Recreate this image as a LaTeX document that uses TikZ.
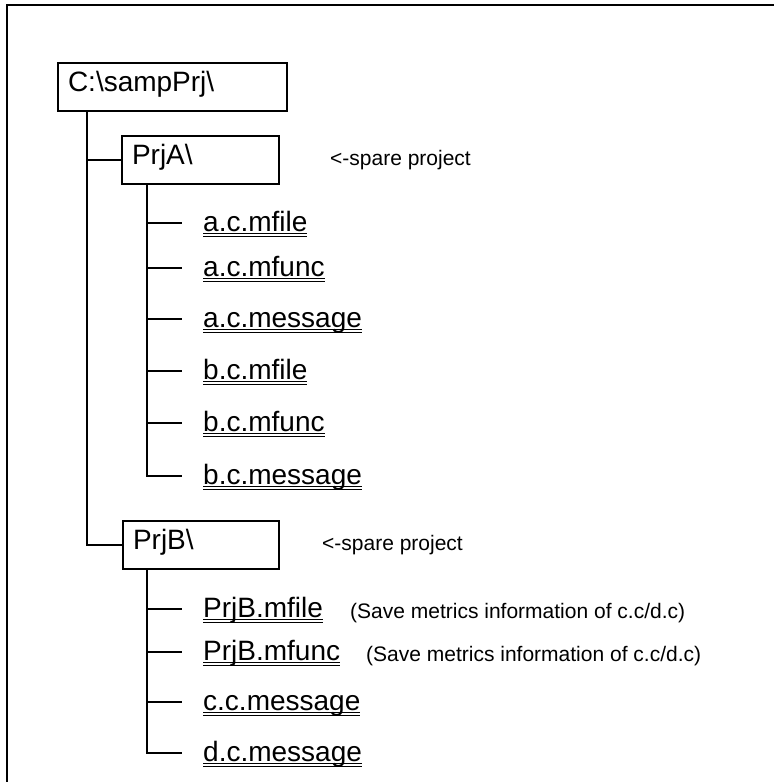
\documentclass[tikz,border=0pt]{standalone}
\usepackage{fontspec}
\setmainfont{Liberation Sans}
\newcommand{\dblul}[1]{\setbox0=\hbox{#1}\rlap{\rule[-3.1pt]{\wd0}{0.9pt}}\rlap{\rule[-5.5pt]{\wd0}{0.9pt}}\box0}
\tikzset{
  dirbox/.style={draw, line width=1.8pt, rectangle, minimum height=48pt, inner xsep=10pt, inner ysep=0pt,
    outer sep=0pt, text height=15pt, text depth=6pt, align=left, font=\fontsize{28}{32}\selectfont, anchor=north west},
  item/.style={inner sep=0pt, anchor=west, text height=20pt, text depth=4pt, font=\fontsize{28}{32}\selectfont},
  note/.style={inner sep=0pt, anchor=base west, font=\fontsize{21}{25}\selectfont},
  tree/.style={line width=1.6pt},
  frame/.style={line width=2pt}
}
\begin{document}
\begin{tikzpicture}[x=1pt,y=-1pt]
\useasboundingbox (0,0) rectangle (774,782);
\draw[frame] (7,782) -- (7,5) -- (774,5);

\node[dirbox, text width=209pt] (C) at (58,63) {C:\textbackslash sampPrj\textbackslash};
\node[dirbox, text width=137pt] (A) at (122,136) {PrjA\textbackslash};
\node[dirbox, text width=136pt] (B) at (123,521) {PrjB\textbackslash};

\node[note] (sa) at (330,165) {<-spare project};
\node[note] (sb) at (322,550) {<-spare project};

\node[item] (a1) at (203,223) {\dblul{a.c.mfile}};
\node[item] (a2) at (203,268) {\dblul{a.c.mfunc}};
\node[item] (a3) at (203,319) {\dblul{a.c.message}};
\node[item] (a4) at (203,371) {\dblul{b.c.mfile}};
\node[item] (a5) at (203,423) {\dblul{b.c.mfunc}};
\node[item] (a6) at (203,476) {\dblul{b.c.message}};

\node[item] (b1) at (203,609) {\dblul{PrjB.mfile}};
\node[item] (b2) at (203,652) {\dblul{PrjB.mfunc}};
\node[item] (b3) at (203,702) {\dblul{c.c.message}};
\node[item] (b4) at (203,753) {\dblul{d.c.message}};

\node[note] (n1) at (350,618) {(Save metrics information of c.c/d.c)};
\node[note] (n2) at (366,661) {(Save metrics information of c.c/d.c)};

\draw[tree] ([xshift=29pt]C.south west) |- (A.west);
\draw[tree] ([xshift=29pt]C.south west) |- (B.west);

\foreach \i in {a1,a2,a3,a4,a5,a6}
  \draw[tree] ([xshift=25pt]A.south west) |- ([xshift=-21pt]\i.west);
\foreach \i in {b1,b2,b3,b4}
  \draw[tree] ([xshift=24pt]B.south west) |- ([xshift=-21pt]\i.west);
\end{tikzpicture}
\end{document}
